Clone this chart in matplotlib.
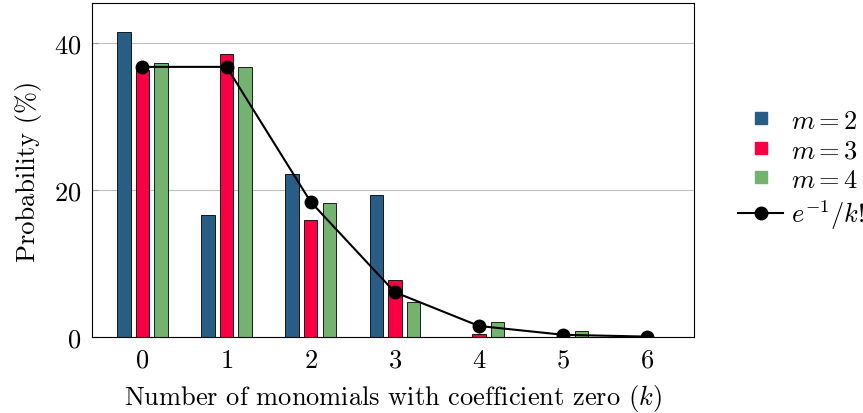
import numpy as np
import matplotlib
matplotlib.use('Agg')
import matplotlib.pyplot as plt
from matplotlib.lines import Line2D

plt.rcParams['font.family'] = 'cmr10'
plt.rcParams['mathtext.fontset'] = 'cm'
plt.rcParams['axes.formatter.use_mathtext'] = True

k = [0, 1, 2, 3, 4, 5, 6]
m2 = [41.6, 16.6, 22.2, 19.4, 0.0, 0.0, 0.0]
m3 = [36.4, 38.6, 16.0, 7.8, 0.35, 0.05, 0.0]
m4 = [37.3, 36.8, 18.2, 4.7, 2.1, 0.75, 0.0]
poisson = [36.8, 36.8, 18.4, 6.1, 1.5, 0.3, 0.05]

c2 = '#285e85'
c3 = '#f90045'
c4 = '#74b36f'

fig = plt.figure(figsize=(8.63, 4.14), dpi=100)
ax = fig.add_axes([0.1066, 0.1836, 0.697, 0.8067])

x = np.array(k)
w = 0.16
ax.bar(x - 0.22, m2, w, color=c2, edgecolor='black', linewidth=0.6, zorder=2)
ax.bar(x, m3, w, color=c3, edgecolor='black', linewidth=0.6, zorder=2)
ax.bar(x + 0.22, m4, w, color=c4, edgecolor='black', linewidth=0.6, zorder=2)
ax.plot(x, poisson, color='black', marker='o', markersize=9, linewidth=1.5, zorder=3)

ax.set_xlim(-0.6, 6.55)
ax.set_ylim(0, 45.5)
ax.set_xticks(k)
ax.set_yticks([0, 20, 40])
ax.grid(axis='y', color='#bfbfbf', linewidth=0.8, zorder=0)
ax.tick_params(direction='in', length=4, color='#999999', labelsize=19, pad=8)
for s in ax.spines.values():
    s.set_linewidth(0.8)

ax.set_xlabel('Number of monomials with coefficient zero ($k$)', fontsize=19, labelpad=7)
ax.set_ylabel('Probability (%)', fontsize=19, labelpad=8)

handles = [
    Line2D([], [], linestyle='none', marker='s', markersize=8, color=c2),
    Line2D([], [], linestyle='none', marker='s', markersize=8, color=c3),
    Line2D([], [], linestyle='none', marker='s', markersize=8, color=c4),
    Line2D([], [], color='black', marker='o', markersize=9, linewidth=1.5),
]
labels = ['$m = 2$', '$m = 3$', '$m = 4$', '$e^{-1}/k!$']
ax.legend(handles, labels, loc='center left', bbox_to_anchor=(1.035, 0.5), frameon=False,
          fontsize=19, handlelength=1.7, handletextpad=0.3, labelspacing=0.22)

fig.savefig('out.png', dpi=100)
